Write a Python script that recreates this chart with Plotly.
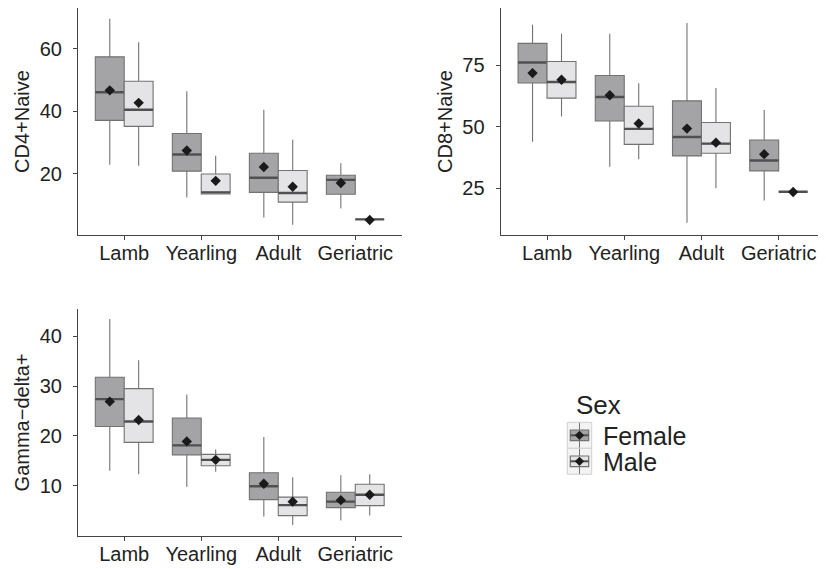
import plotly.graph_objects as go

ages = ["Lamb", "Yearling", "Adult", "Geriatric"]
sexes = ["Female", "Male"]

# CD4+Naive
cd4_f = dict(lo=[22.9, 12.5, 6.1, 9.0], q1=[37.1, 20.9, 14.1, 13.5], med=[46.1, 26.2, 18.8, 18.1],
             q3=[57.4, 32.9, 26.6, 19.6], hi=[69.6, 46.4, 40.5, 23.4], mean=[46.7, 27.5, 22.2, 17.1])
cd4_m = dict(lo=[22.6, 13.5, 3.8, 5.5], q1=[35.2, 13.6, 11.0, 5.5], med=[40.5, 14.1, 13.9, 5.5],
             q3=[49.6, 20.0, 21.1, 5.5], hi=[62.1, 25.8, 30.9, 5.5], mean=[42.7, 17.8, 15.9, 5.3])
# CD8+Naive
cd8_f = dict(lo=[44.0, 33.8, 11.0, 20.0], q1=[67.9, 52.4, 38.2, 32.1], med=[76.2, 62.2, 45.9, 36.3],
             q3=[84.0, 70.9, 60.6, 44.7], hi=[91.6, 87.9, 92.3, 56.9], mean=[71.9, 62.9, 49.3, 38.9])
cd8_m = dict(lo=[54.2, 36.8, 25.0, 23.6], q1=[61.7, 42.9, 39.3, 23.6], med=[68.3, 49.2, 43.2, 23.6],
             q3=[76.6, 58.4, 51.8, 23.6], hi=[87.9, 67.8, 65.8, 23.6], mean=[69.2, 51.4, 43.6, 23.5])
# Gamma-delta+
gd_f = dict(lo=[13.0, 9.8, 3.8, 3.0], q1=[21.9, 16.2, 7.2, 5.6], med=[27.4, 18.1, 9.9, 6.8],
            q3=[31.8, 23.6, 12.6, 8.7], hi=[43.5, 28.3, 19.8, 12.1], mean=[26.9, 18.9, 10.4, 7.1])
gd_m = dict(lo=[12.3, 12.8, 2.1, 4.0], q1=[18.7, 14.0, 4.0, 6.0], med=[22.9, 15.2, 6.1, 8.2],
            q3=[29.5, 16.3, 7.7, 10.3], hi=[35.2, 17.3, 11.7, 12.3], mean=[23.2, 15.2, 6.8, 8.2])

panels = [
    ("CD4+Naive", cd4_f, cd4_m, "x", "y"),
    ("CD8+Naive", cd8_f, cd8_m, "x2", "y2"),
    ("Gamma\u2212delta+", gd_f, gd_m, "x3", "y3"),
]

F_FILL = "#a4a4a7"
M_FILL = "#e4e4e6"
FILLS = {"Female": F_FILL, "Male": M_FILL}
EDGE = "#727272"
MED = "#505050"
DIA = "#1a1a1a"
BW = 0.375

# page body has an 8px margin; figure is sized to fit the 826x569 window
OFF = 8
W, H = 826 - OFF, 569 - OFF


def px(x):
    return (x - OFF) / W


def py(y):
    return 1 - (y - OFF) / H


fig = go.Figure()
for pi, (title, fd, md, xa, ya) in enumerate(panels):
    for name, d, off in [("Female", fd, -BW / 2), ("Male", md, BW / 2)]:
        xs = [i + off for i in range(len(ages))]
        fig.add_trace(go.Box(
            x=xs, q1=d["q1"], median=d["med"], q3=d["q3"],
            lowerfence=d["lo"], upperfence=d["hi"],
            width=BW, whiskerwidth=0, fillcolor=FILLS[name],
            line=dict(color=EDGE, width=1.1),
            name=name, showlegend=False,
            xaxis=xa, yaxis=ya, hoverinfo="skip", boxpoints=False,
        ))
        fig.add_trace(go.Box(
            x=xs, q1=d["med"], median=d["med"], q3=d["med"],
            lowerfence=d["med"], upperfence=d["med"],
            width=BW, whiskerwidth=0, fillcolor="rgba(0,0,0,0)",
            line=dict(color=MED, width=2.4),
            name=name, showlegend=False,
            xaxis=xa, yaxis=ya, hoverinfo="skip", boxpoints=False,
        ))
        fig.add_trace(go.Scatter(
            x=xs, y=d["mean"], mode="markers",
            marker=dict(symbol="diamond", size=8, color=DIA),
            showlegend=False, xaxis=xa, yaxis=ya, hoverinfo="skip",
        ))

FONT = "Liberation Sans, Arial, sans-serif"
axis_common = dict(showgrid=False, zeroline=False, showline=True, linecolor="#444", linewidth=1.2,
                   ticks="outside", ticklen=4, tickcolor="#444", tickfont=dict(size=20, color="#222"))
xcommon = dict(axis_common, range=[-0.6, 3.6], tickvals=list(range(len(ages))), ticktext=ages,
               ticklabelstandoff=-4)
ycommon = dict(axis_common, ticklabelstandoff=7)
ytitle_font = dict(size=20, color="#222")

fig.update_layout(
    width=W, height=H, margin=dict(l=0, r=0, t=0, b=0),
    paper_bgcolor="white", plot_bgcolor="white",
    font=dict(family=FONT, color="#222"),
    boxmode="overlay", showlegend=False,
    xaxis=dict(xcommon, domain=[px(78), px(401.5)], anchor="y"),
    yaxis=dict(ycommon, domain=[py(235), py(8)], anchor="x", range=[0.5, 73.0],
               tickvals=[20, 40, 60], title=dict(text="CD4+Naive", font=ytitle_font, standoff=4)),
    xaxis2=dict(xcommon, domain=[px(500.7), px(825)], anchor="y2"),
    yaxis2=dict(ycommon, domain=[py(235), py(8)], anchor="x2", range=[6.0, 98.4],
                tickvals=[25, 50, 75], title=dict(text="CD8+Naive", font=ytitle_font, standoff=4)),
    xaxis3=dict(xcommon, domain=[px(78), px(401.5)], anchor="y3"),
    yaxis3=dict(ycommon, domain=[py(536), py(309)], anchor="x3", range=[-0.1, 45.5],
                tickvals=[10, 20, 30, 40], title=dict(text="Gamma\u2212delta+", font=ytitle_font, standoff=4)),
)

# ---- legend drawn as a ggplot-style key ----
shapes = []
annotations = [dict(text="Sex", x=px(574), y=py(405), xref="paper", yref="paper",
                    xanchor="left", yanchor="middle", showarrow=False,
                    font=dict(size=26, color="#222"))]
key_left, key_right, key_h, key_top = 567.3, 591.7, 26.0, 422.3
cx = (key_left + key_right) / 2
for k, name in enumerate(sexes):
    top = key_top + k * key_h
    bot = top + key_h
    cy = (top + bot) / 2
    shapes.append(dict(type="rect", xref="paper", yref="paper", x0=px(key_left), x1=px(key_right),
                       y0=py(bot), y1=py(top), fillcolor="#f3f3f3", line=dict(color="#d0d0d0", width=1)))
    shapes.append(dict(type="line", xref="paper", yref="paper", x0=px(cx), x1=px(cx),
                       y0=py(bot - 0.5), y1=py(top + 0.5), line=dict(color=EDGE, width=1)))
    shapes.append(dict(type="rect", xref="paper", yref="paper", x0=px(570.3), x1=px(588.7),
                       y0=py(cy + 5.3), y1=py(cy - 5.3), fillcolor=FILLS[name],
                       line=dict(color=EDGE, width=1.2)))
    shapes.append(dict(type="line", xref="paper", yref="paper", x0=px(570.3), x1=px(588.7),
                       y0=py(cy), y1=py(cy), line=dict(color=MED, width=2)))
    r = 4.6
    path = (f"M {px(cx)},{py(cy - r)} L {px(cx + r)},{py(cy)} L {px(cx)},{py(cy + r)} "
            f"L {px(cx - r)},{py(cy)} Z")
    shapes.append(dict(type="path", xref="paper", yref="paper", path=path,
                       fillcolor=DIA, line=dict(color=DIA, width=0)))
    annotations.append(dict(text=name, x=px(600.5), y=py(cy + 1), xref="paper", yref="paper",
                            xanchor="left", yanchor="middle", showarrow=False,
                            font=dict(size=25, color="#222")))

fig.update_layout(shapes=shapes, annotations=annotations)

fig.write_html("out.html")
